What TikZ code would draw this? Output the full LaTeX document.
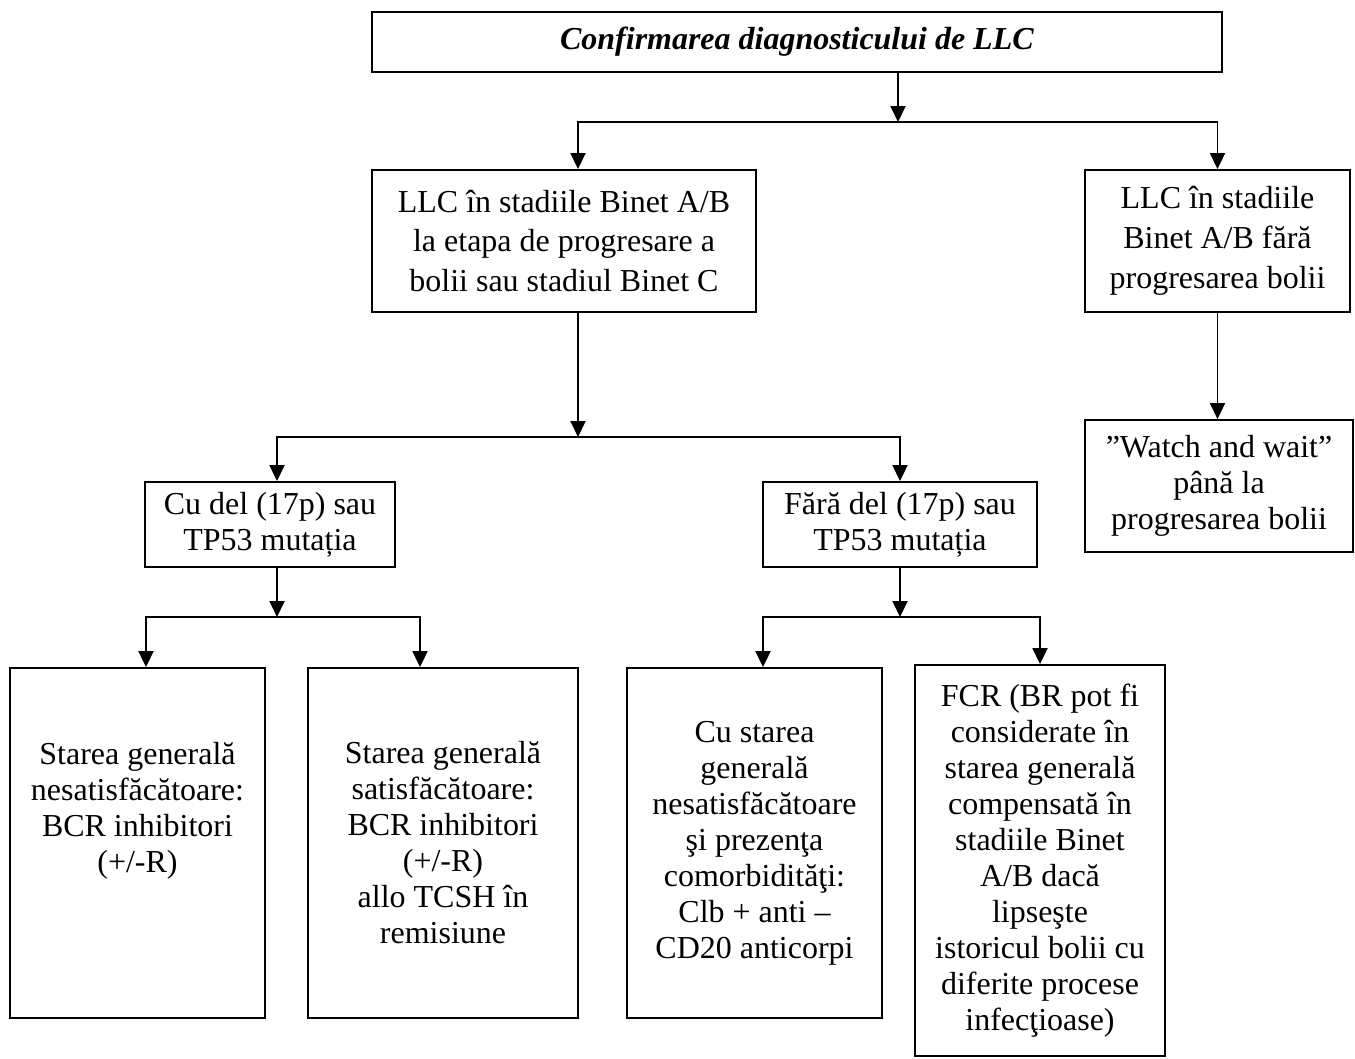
\documentclass[tikz,border=0pt]{standalone}
\usepackage{fontspec}
\setmainfont{Liberation Serif}
\usetikzlibrary{arrows.meta}
\tikzstyle{cardbox} = [draw, line width=1.1pt, rectangle, align=center, inner sep=0pt]
\tikzstyle{widebox} = [cardbox, font=\fontsize{18.2}{22.6}\selectfont]
\tikzstyle{arr} = [line width=1.1pt, -{Triangle[length=0.32cm, width=0.3cm]}]

\begin{document}
\begin{tikzpicture}[x=0.02cm, y=-0.02cm, every node/.style={font=\fontsize{18.2}{20.5}\selectfont}]
	\useasboundingbox (0,0) rectangle (1355,1058);

	% nivel 1
	\node [cardbox, minimum width=17cm, minimum height=1.2cm] at (797,42) (diag)
		{\textbf{\textit{Confirmarea diagnosticului de LLC}}};

	% nivel 2
	\node [widebox, minimum width=7.68cm, minimum height=2.84cm] at (564,241) (llcA)
		{LLC în stadiile Binet A/B\\la etapa de progresare a\\bolii sau stadiul Binet C};
	\node [widebox, minimum width=5.3cm, minimum height=2.84cm] at (1217.5,241) (llcB)
		{LLC în stadiile\\Binet A/B fără\\progresarea bolii};

	% nivel 3
	\node [cardbox, minimum width=5cm, minimum height=1.7cm] at (270,524.5) (cudel)
		{Cu del (17p) sau\\TP53 mutația};
	\node [cardbox, minimum width=5.48cm, minimum height=1.7cm] at (900,524.5) (faradel)
		{Fără del (17p) sau\\TP53 mutația};
	\node [cardbox, minimum width=5.36cm, minimum height=2.64cm] at (1219,486) (watch)
		{”Watch and wait”\\până la\\progresarea bolii};

	% nivel 4
	\node [cardbox, minimum width=5.1cm, minimum height=7cm] at (137.5,843) (boxA)
		{Starea generală\\nesatisfăcătoare:\\BCR inhibitori\\(+/-R)\\\mbox{}\\\mbox{}};
	\node [cardbox, minimum width=5.4cm, minimum height=7cm] at (443,843) (boxB)
		{Starea generală\\satisfăcătoare:\\BCR inhibitori\\(+/-R)\\allo TCSH în\\remisiune};
	\node [cardbox, minimum width=5.1cm, minimum height=7cm] at (754.5,843) (boxC)
		{Cu starea\\generală\\nesatisfăcătoare\\şi prezenţa\\comorbidităţi:\\Clb + anti –\\CD20 anticorpi};
	\node [cardbox, minimum width=5cm, minimum height=7.82cm] at (1040,860.5) (boxD)
		{FCR (BR pot fi\\considerate în\\starea generală\\compensată în\\stadiile Binet\\A/B dacă\\lipseşte\\istoricul bolii cu\\diferite procese\\infecţioase)};

	% legaturi
	\coordinate (j1) at (898,122);
	\draw[arr] (diag.south -| j1) -- (j1);
	\draw[arr] (j1) -| ([xshift=0.28cm]llcA.north);
	\draw[arr] (j1) -| (llcB.north);

	\coordinate (j2) at (578,437);
	\draw[arr] (llcA.south -| j2) -- (j2);
	\draw[arr] (j2) -| ([xshift=0.14cm]cudel.north);
	\draw[arr] (j2) -| (faradel.north);
	\draw[arr] (llcB.south) -- (llcB.south |- watch.north);

	\coordinate (j3) at (277,617);
	\draw[arr] (cudel.south -| j3) -- (j3);
	\draw[arr] (j3) -| ([xshift=0.17cm]boxA.north);
	\draw[arr] (j3) -| ([xshift=-0.46cm]boxB.north);

	\coordinate (j4) at (900,617);
	\draw[arr] (faradel.south -| j4) -- (j4);
	\draw[arr] (j4) -| ([xshift=0.17cm]boxC.north);
	\draw[arr] (j4) -| (boxD.north);
\end{tikzpicture}
\end{document}
